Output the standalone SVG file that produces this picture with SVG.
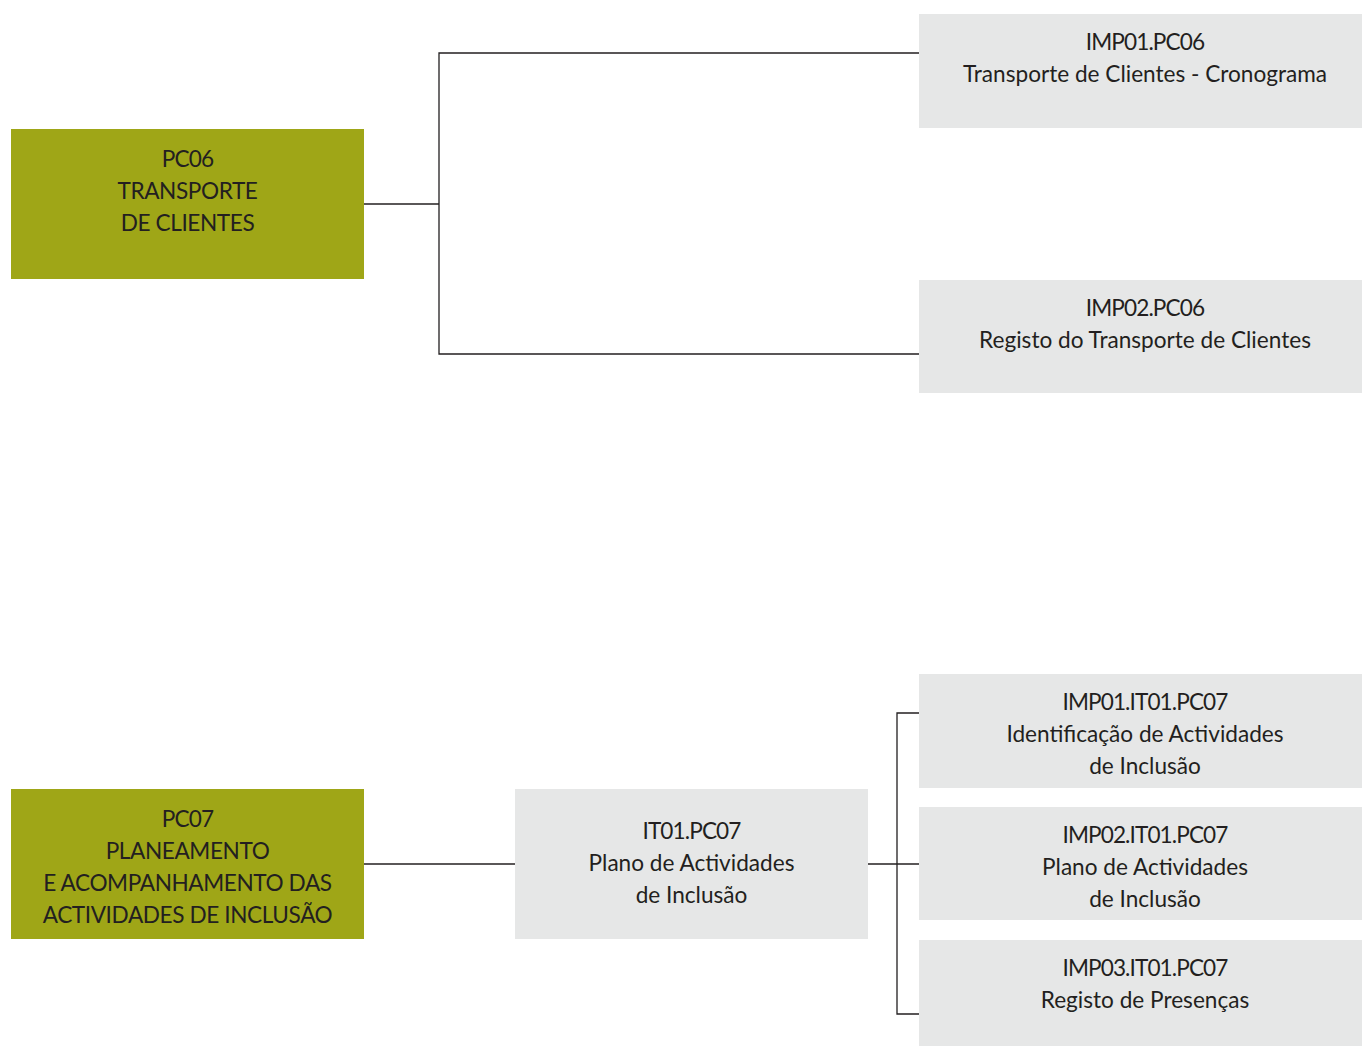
<svg xmlns="http://www.w3.org/2000/svg" width="1362" height="1046" viewBox="0 0 1362 1046">
  <style>
    .main { fill: #9fa617; }
    .doc { fill: #e6e7e7; }
    .lbl { font-family: Lato, "Open Sans", sans-serif; font-size: 22.6px; fill: #231f20; text-anchor: middle; }
    .code { letter-spacing: -0.9px; }
    .caps { letter-spacing: -0.4px; }
    .wire { fill: none; stroke: #231f20; stroke-width: 1.3; }
  </style>
  <rect width="1362" height="1046" fill="#ffffff"/>

  <g id="connectors">
    <polyline class="wire" points="364,204 439,204"/>
    <polyline class="wire" points="919,53 439,53 439,354 919,354"/>
    <polyline class="wire" points="364,864 515,864"/>
    <polyline class="wire" points="868,864 919,864"/>
    <polyline class="wire" points="919,713 897,713 897,1014 919,1014"/>
  </g>

  <g id="pc06">
    <rect class="main" x="11" y="129" width="353" height="150"/>
    <text class="lbl caps"><tspan class="code" x="187.5" y="167">PC06</tspan><tspan x="187.5" y="199">TRANSPORTE</tspan><tspan x="187.5" y="231">DE CLIENTES</tspan></text>
  </g>

  <g id="imp01-pc06">
    <rect class="doc" x="919" y="14" width="443" height="114"/>
    <text class="lbl"><tspan class="code" x="1145" y="50">IMP01.PC06</tspan><tspan x="1145" y="82">Transporte de Clientes - Cronograma</tspan></text>
  </g>

  <g id="imp02-pc06">
    <rect class="doc" x="919" y="280" width="443" height="113"/>
    <text class="lbl"><tspan class="code" x="1145" y="316">IMP02.PC06</tspan><tspan x="1145" y="348">Registo do Transporte de Clientes</tspan></text>
  </g>

  <g id="pc07">
    <rect class="main" x="11" y="789" width="353" height="150"/>
    <text class="lbl caps"><tspan class="code" x="187.5" y="827">PC07</tspan><tspan x="187.5" y="859">PLANEAMENTO</tspan><tspan x="187.5" y="891">E ACOMPANHAMENTO DAS</tspan><tspan x="187.5" y="923">ACTIVIDADES DE INCLUSÃO</tspan></text>
  </g>

  <g id="it01-pc07">
    <rect class="doc" x="515" y="789" width="353" height="150"/>
    <text class="lbl"><tspan class="code" x="691.5" y="839">IT01.PC07</tspan><tspan x="691.5" y="871">Plano de Actividades</tspan><tspan x="691.5" y="903">de Inclusão</tspan></text>
  </g>

  <g id="imp01-it01-pc07">
    <rect class="doc" x="919" y="674" width="443" height="114"/>
    <text class="lbl"><tspan class="code" x="1145" y="710">IMP01.IT01.PC07</tspan><tspan x="1145" y="742">Identificação de Actividades</tspan><tspan x="1145" y="774">de Inclusão</tspan></text>
  </g>

  <g id="imp02-it01-pc07">
    <rect class="doc" x="919" y="807" width="443" height="113"/>
    <text class="lbl"><tspan class="code" x="1145" y="843">IMP02.IT01.PC07</tspan><tspan x="1145" y="875">Plano de Actividades</tspan><tspan x="1145" y="907">de Inclusão</tspan></text>
  </g>

  <g id="imp03-it01-pc07">
    <rect class="doc" x="919" y="940" width="443" height="106"/>
    <text class="lbl"><tspan class="code" x="1145" y="976">IMP03.IT01.PC07</tspan><tspan x="1145" y="1008">Registo de Presenças</tspan></text>
  </g>
</svg>
